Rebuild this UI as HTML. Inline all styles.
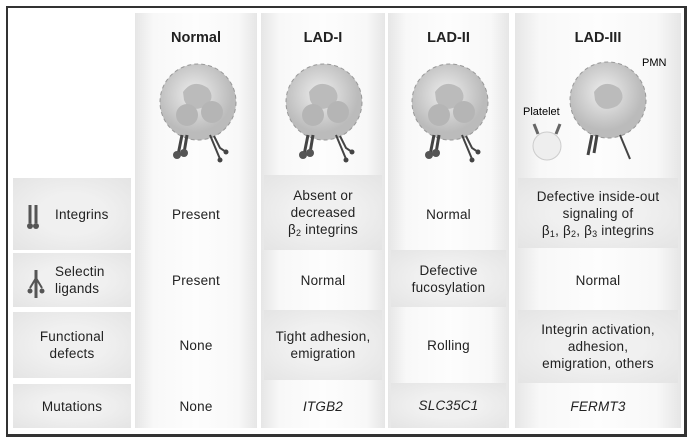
<!DOCTYPE html>
<html><head><style>
body{margin:0;width:693px;height:442px;background:#fff;font-family:"Liberation Sans",sans-serif;color:#222;overflow:hidden;position:relative}
.frame{position:absolute;left:6px;top:6px;width:676px;height:426px;border:2px solid #333;border-right-width:3px;border-bottom-width:3px}
.col{position:absolute;top:13px;height:415px;background:linear-gradient(90deg,#e6e6e6,#f8f8f8 15%,#fdfdfd 50%,#f8f8f8 85%,#e6e6e6)}
.cell{position:absolute;display:flex;align-items:center;justify-content:center;text-align:center;font-size:13.5px;line-height:17px;letter-spacing:0.2px}
.cell span{display:block}
.g{background:radial-gradient(ellipse at center,#f0f0f0 40%,#e4e4e4 100%)}
.h{position:absolute;top:30px;font-weight:bold;font-size:14.5px;text-align:center}
i{font-style:italic}
sub{font-size:9px;vertical-align:-2px;line-height:0}
</style></head><body>
<div class="frame"></div>
<div class="col" style="left:135px;width:122px"></div>
<div class="col" style="left:261px;width:124px"></div>
<div class="col" style="left:388px;width:121px"></div>
<div class="col" style="left:515px;width:166px"></div>

<div class="h" style="left:135px;width:122px">Normal</div>
<div class="h" style="left:261px;width:124px">LAD-I</div>
<div class="h" style="left:388px;width:121px">LAD-II</div>
<div class="h" style="left:515px;width:166px">LAD-III</div>

<svg width="693" height="442" style="position:absolute;left:0;top:0">
<defs><radialGradient id="c" cx="45%" cy="40%"><stop offset="0" stop-color="#eee"/><stop offset="1" stop-color="#bbb"/></radialGradient></defs>
<g id="cell">
<circle cx="198" cy="102" r="38" fill="url(#c)" stroke="#999" stroke-dasharray="4 3"/>
<path d="M183 92 q10-14 25-4 q8 10-2 18 q-16 8-22-6z" fill="#bbb"/>
<circle cx="187" cy="115" r="11" fill="#b5b5b5"/><circle cx="212" cy="112" r="11" fill="#b5b5b5"/>
<path d="M182 135 l-4 20 M187 135 l-3 18" stroke="#444" stroke-width="3"/>
<circle cx="177" cy="155" r="4" fill="#555"/><circle cx="184" cy="153" r="4" fill="#555"/>
<path d="M210 135 l10 24 M214 136 l6 12 l6 4" stroke="#444" stroke-width="2" fill="none"/>
<circle cx="220" cy="160" r="2.5" fill="#444"/><circle cx="226" cy="152" r="2.5" fill="#444"/>
</g>
<use href="#cell" x="126"/>
<use href="#cell" x="252"/>
<circle cx="547" cy="146" r="14" fill="#eee" stroke="#ccc"/>
<path d="M538 134 l-4-10 M556 134 l4-10" stroke="#666" stroke-width="3"/>
<circle cx="608" cy="100" r="38" fill="url(#c)" stroke="#999" stroke-dasharray="4 3"/>
<path d="M594 92 q10-14 25-4 q8 10-2 18 q-16 8-22-6z" fill="#bbb"/>
<path d="M592 135 l-4 20 M597 135 l-3 18" stroke="#444" stroke-width="3"/>
<path d="M620 135 l10 24" stroke="#444" stroke-width="2"/>
<text x="642" y="66" font-family="Liberation Sans" font-size="11">PMN</text>
<text x="523" y="115" font-family="Liberation Sans" font-size="11">Platelet</text>
</svg>

<div class="cell g" style="left:13px;top:178px;width:118px;height:72px;justify-content:flex-start;padding-left:42px;box-sizing:border-box"><span>Integrins</span></div>
<div class="cell g" style="left:13px;top:253px;width:118px;height:54px;justify-content:flex-start;padding-left:42px;box-sizing:border-box;text-align:left"><span>Selectin<br>ligands</span></div>
<div class="cell g" style="left:13px;top:312px;width:118px;height:66px"><span>Functional<br>defects</span></div>
<div class="cell g" style="left:13px;top:384px;width:118px;height:44px"><span>Mutations</span></div>

<div class="cell" style="left:135px;top:178px;width:122px;height:72px"><span>Present</span></div>
<div class="cell" style="left:135px;top:253px;width:122px;height:54px"><span>Present</span></div>
<div class="cell" style="left:135px;top:312px;width:122px;height:66px"><span>None</span></div>
<div class="cell" style="left:135px;top:384px;width:122px;height:44px"><span>None</span></div>

<div class="cell g" style="left:264px;top:175px;width:118px;height:75px"><span>Absent or<br>decreased<br>β<sub>2</sub> integrins</span></div>
<div class="cell" style="left:261px;top:253px;width:124px;height:54px"><span>Normal</span></div>
<div class="cell g" style="left:264px;top:310px;width:118px;height:70px"><span>Tight adhesion,<br>emigration</span></div>
<div class="cell" style="left:261px;top:384px;width:124px;height:44px"><span><i>ITGB2</i></span></div>

<div class="cell" style="left:388px;top:178px;width:121px;height:72px"><span>Normal</span></div>
<div class="cell g" style="left:391px;top:250px;width:115px;height:57px"><span>Defective<br>fucosylation</span></div>
<div class="cell" style="left:388px;top:312px;width:121px;height:66px"><span>Rolling</span></div>
<div class="cell g" style="left:391px;top:383px;width:115px;height:45px"><span><i>SLC35C1</i></span></div>

<div class="cell g" style="left:518px;top:178px;width:160px;height:70px"><span>Defective inside-out<br>signaling of<br>β<sub>1</sub>, β<sub>2</sub>, β<sub>3</sub> integrins</span></div>
<div class="cell" style="left:515px;top:253px;width:166px;height:54px"><span>Normal</span></div>
<div class="cell g" style="left:518px;top:310px;width:160px;height:73px"><span>Integrin activation,<br>adhesion,<br>emigration, others</span></div>
<div class="cell" style="left:515px;top:384px;width:166px;height:44px"><span><i>FERMT3</i></span></div>

<svg width="693" height="442" style="position:absolute;left:0;top:0">
<path d="M30 205 v18 M36 205 v18" stroke="#555" stroke-width="3"/><circle cx="30" cy="226" r="3" fill="#555"/><circle cx="36" cy="226" r="3" fill="#555"/>
<path d="M36 270 v28" stroke="#555" stroke-width="3"/><path d="M36 278 l-6 10 M36 278 l6 10" stroke="#555" stroke-width="2"/>
<circle cx="30" cy="291" r="2.5" fill="#555"/><circle cx="42" cy="291" r="2.5" fill="#555"/>
</svg>
</body></html>
